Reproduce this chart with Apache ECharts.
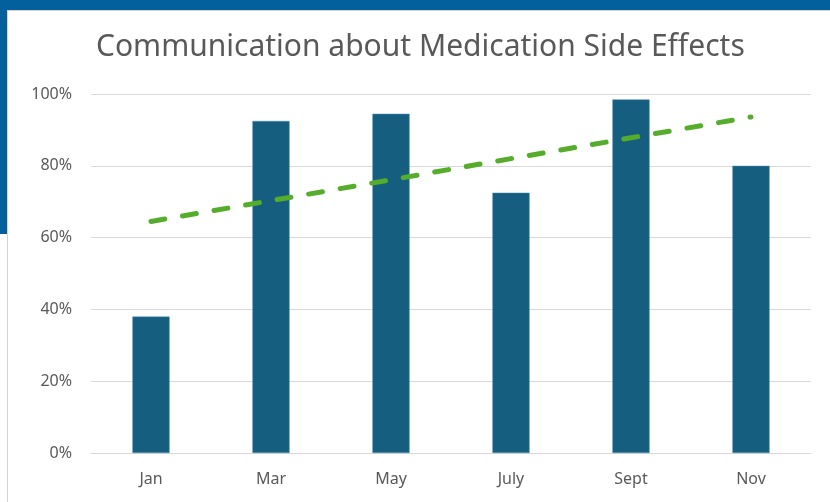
<!DOCTYPE html>
<html>
<head>
<meta charset="utf-8">
<script src="https://cdn.jsdelivr.net/npm/echarts@6/dist/echarts.min.js"></script>
<style>
  html, body { margin: 0; padding: 0; background: #ffffff; }
  #wrap { position: relative; width: 830px; height: 502px; overflow: hidden; background: #ffffff; }
  #bandTop { position: absolute; left: 0; top: 0; width: 830px; height: 10px; background: #04609a; }
  #bandLeft { position: absolute; left: 0; top: 0; width: 7px; height: 234px; background: #04609a; }
  #card { position: absolute; left: 7px; top: 10px; width: 823px; height: 492px; background: #ffffff;
          border-left: 1px solid #d4d4d4; border-top: 1px solid #d4d4d4; box-sizing: border-box; }
  #chart { position: absolute; left: 0; top: 0; width: 830px; height: 502px; }
</style>
</head>
<body>
<div id="wrap">
  <div id="bandTop"></div>
  <div id="bandLeft"></div>
  <div id="card"></div>
  <div id="chart"></div>
</div>
<script>
const categories = ["Jan", "Mar", "May", "July", "Sept", "Nov"];
const barValues = [38, 92.5, 94.5, 72.5, 98.5, 80];
const trendValues = [64.5, 70.3, 76.1, 82, 87.8, 93.6];
const yTicks = [0, 20, 40, 60, 80, 100];
const titleText = "Communication about Medication Side Effects";

const chart = echarts.init(document.getElementById('chart'), null, { renderer: 'canvas' });
chart.setOption({
  backgroundColor: 'transparent',
  animation: false,
  title: {
    text: titleText,
    left: 91,
    top: 27,
    textStyle: { fontFamily: 'Noto Sans', fontSize: 30, fontWeight: 'normal', color: '#595959' }
  },
  grid: { left: 91, right: 19, top: 94, bottom: 49, containLabel: false },
  xAxis: {
    type: 'category',
    data: categories,
    axisLine: { show: true, lineStyle: { color: '#d9d9d9', width: 1 } },
    axisTick: { show: false },
    axisLabel: { color: '#595959', fontFamily: 'Noto Sans', fontSize: 16, margin: 18 }
  },
  yAxis: {
    type: 'value',
    min: yTicks[0],
    max: yTicks[yTicks.length - 1],
    interval: 20,
    axisLine: { show: false },
    axisTick: { show: false },
    splitLine: { lineStyle: { color: '#d9d9d9', width: 1 } },
    axisLabel: { color: '#595959', fontFamily: 'Noto Sans', fontSize: 16, margin: 19,
                 formatter: v => v + '%' }
  },
  series: [
    {
      type: 'bar',
      data: barValues,
      barWidth: '31%',
      itemStyle: { color: '#165e80', borderColor: '#4f8fae', borderWidth: 0.5 }
    },
    {
      type: 'line',
      data: trendValues,
      symbol: 'none',
      z: 5,
      lineStyle: { color: '#55ad2b', width: 5, type: [14, 18], cap: 'round' }
    }
  ]
});
</script>
</body>
</html>
